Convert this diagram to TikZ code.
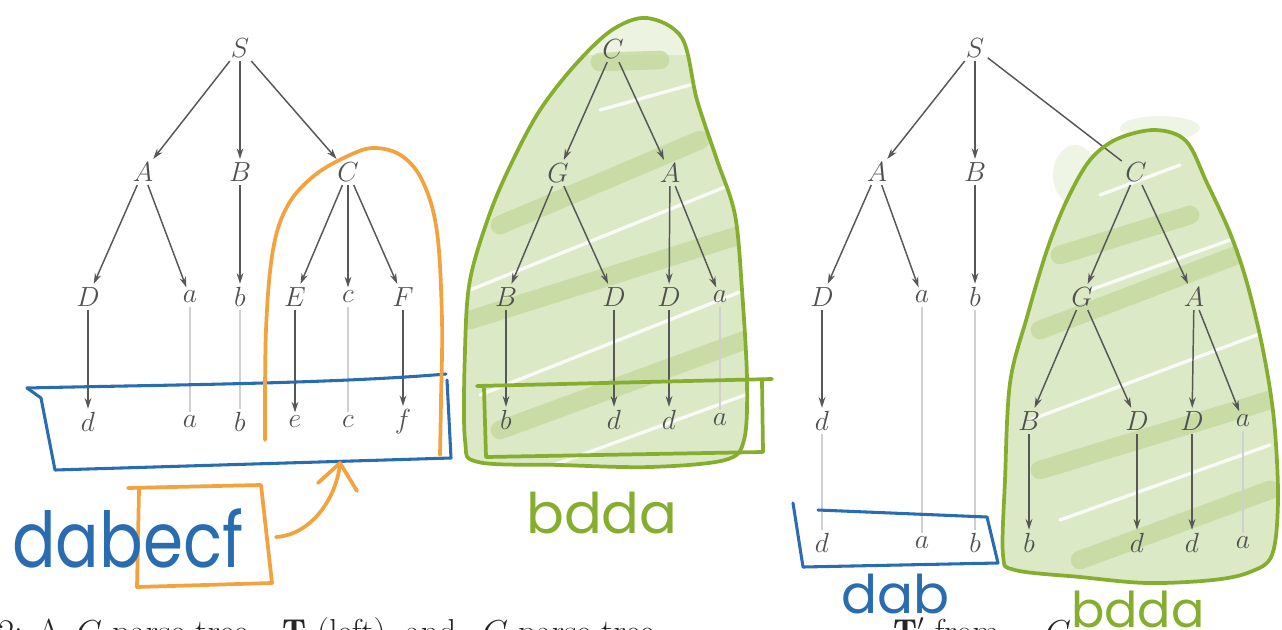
\documentclass[tikz,border=0pt]{standalone}
\usepackage{fontspec}
\newfontfamily\hand{Poppins}
\usetikzlibrary{arrows.meta}
\definecolor{lblgray}{HTML}{505050}
\definecolor{edgegray}{HTML}{575757}
\definecolor{faint}{HTML}{D0D0D0}
\definecolor{hblue}{HTML}{2A6CB0}
\definecolor{horange}{HTML}{F2A23F}
\definecolor{hgreen}{HTML}{86AE2E}
\definecolor{gfill}{HTML}{DCE9C6}
\definecolor{gdark}{HTML}{C3D89C}
\begin{document}
\begin{tikzpicture}[x=0.75pt,y=-0.75pt,
  lbl/.style={font=\fontsize{22}{26}\selectfont, text=lblgray, inner sep=2.5pt},
  edge/.style={draw=edgegray, line width=1.1pt, -{Stealth[length=8pt,width=5pt]}},
  plain/.style={draw=edgegray, line width=1.1pt},
  faintline/.style={draw=faint, line width=0.8pt},
  pen/.style={line width=2.3pt, line cap=round, line join=round},
  gpen/.style={pen, draw=hgreen, line width=2.8pt},
  opens/.style={pen, draw=horange, line width=2.8pt},
  bpen/.style={pen, draw=hblue},
  band/.style={draw=gdark, line width=14pt, line cap=round, opacity=0.75},
  streak/.style={draw=white, line width=2.5pt, line cap=round, opacity=0.85},
  hw/.style={anchor=base west, inner sep=0pt},
  captext/.style={anchor=base west, inner sep=0pt, font=\fontsize{26}{30}\selectfont, text=black!85}
]
\useasboundingbox (0,0) rectangle (1282,629);

% ---------- green shading, middle ----------
\def\midblob{(647,18) (682,38) (697,100) (717,160) (735,215) (742,290) (747,380) (744,440) (725,460) (650,467) (560,465) (478,462) (465,440) (465,350) (470,280) (490,213) (513,160) (540,110) (575,65) (612,30)}
\begin{scope}
  \clip plot[smooth cycle, tension=0.55] coordinates {\midblob};
  \fill[gfill] (440,55) rectangle (800,480);
  \fill[gfill!55] (440,0) rectangle (800,55);
  \draw[band] (600,62) -- (660,60);
  \draw[band] (500,225) -- (700,140);
  \draw[band] (470,320) -- (740,235);
  \draw[band] (500,430) -- (745,340);
  \draw[streak] (470,290) -- (730,185);
  \draw[streak] (480,395) -- (745,290);
  \draw[streak] (540,470) -- (745,395);
  \draw[streak] (600,110) -- (690,85);
\end{scope}
% ---------- green shading, right ----------
\def\rightblob{(1155,130) (1186,141) (1207,183) (1230,233) (1247,283) (1263,350) (1274,420) (1278,500) (1272,555) (1250,572) (1213,580) (1147,583) (1080,577) (1015,570) (1003,555) (1005,480) (1010,383) (1027,317) (1047,250) (1067,200) (1090,160) (1117,139)}
\fill[gfill, opacity=0.45] (1075,175) ellipse (22 and 30);
\fill[gfill, opacity=0.45] (1160,128) ellipse (40 and 12);
\begin{scope}
  \clip plot[smooth cycle, tension=0.55] coordinates {\rightblob};
  \fill[gfill] (990,120) rectangle (1282,600);
  \draw[band] (1060,255) -- (1190,215);
  \draw[band] (1040,330) -- (1250,250);
  \draw[band] (1040,470) -- (1270,400);
  \draw[band] (1080,560) -- (1270,490);
  \draw[streak] (1100,195) -- (1180,165);
  \draw[streak] (1090,290) -- (1230,240);
  \draw[streak] (1030,420) -- (1270,330);
  \draw[streak] (1060,520) -- (1270,445);
\end{scope}

% ---------- left tree ----------
\node[lbl] (lS) at (240,48) {$S$};
\node[lbl] (lA) at (143,172) {$A$};
\node[lbl] (lB) at (240,172) {$B$};
\node[lbl] (lC) at (348,172) {$C$};
\node[lbl] (lD) at (88,297) {$D$};
\node[lbl] (la1) at (190,297) {$a$};
\node[lbl] (lb1) at (240,297) {$b$};
\node[lbl] (lE) at (295,297) {$E$};
\node[lbl] (lc1) at (348,297) {$c$};
\node[lbl] (lF) at (403,297) {$F$};
\node[lbl] (ld2) at (88,422) {$d$};
\node[lbl] (la2) at (190,422) {$a$};
\node[lbl] (lb2) at (240,422) {$b$};
\node[lbl] (le2) at (295,422) {$e$};
\node[lbl] (lc2) at (348,422) {$c$};
\node[lbl] (lf2) at (403,422) {$f$};
\draw[edge] (lS) -- (lA);
\draw[edge] (lS) -- (lB);
\draw[edge] (lS) -- (lC);
\draw[edge] (lA) -- (lD);
\draw[edge] (lA) -- (la1);
\draw[edge] (lB) -- (lb1);
\draw[edge] (lC) -- (lE);
\draw[edge] (lC) -- (lc1);
\draw[edge] (lC) -- (lF);
\draw[edge] (lD) -- (ld2);
\draw[faintline] (la1) -- (la2);
\draw[faintline] (lb1) -- (lb2);
\draw[edge] (lE) -- (le2);
\draw[faintline] (lc1) -- (lc2);
\draw[edge] (lF) -- (lf2);

% ---------- middle tree ----------
\node[lbl] (mC) at (613,49) {$C$};
\node[lbl] (mG) at (558,173) {$G$};
\node[lbl] (mA) at (670,173) {$A$};
\node[lbl] (mB) at (506,297) {$B$};
\node[lbl] (mD1) at (614,297) {$D$};
\node[lbl] (mD2) at (669,297) {$D$};
\node[lbl] (ma1) at (720,297) {$a$};
\node[lbl] (mb2) at (506,420) {$b$};
\node[lbl] (md1) at (614,420) {$d$};
\node[lbl] (md2) at (669,420) {$d$};
\node[lbl] (ma2) at (720,420) {$a$};
\draw[edge] (mC) -- (mG);
\draw[edge] (mC) -- (mA);
\draw[edge] (mG) -- (mB);
\draw[edge] (mG) -- (mD1);
\draw[edge] (mA) -- (mD2);
\draw[edge] (mA) -- (ma1);
\draw[edge] (mB) -- (mb2);
\draw[edge] (mD1) -- (md1);
\draw[edge] (mD2) -- (md2);
\draw[faintline] (ma1) -- (ma2);

% ---------- right tree ----------
\node[lbl] (rS) at (975,48) {$S$};
\node[lbl] (rA) at (877,172) {$A$};
\node[lbl] (rB) at (975,172) {$B$};
\node[lbl] (rC) at (1136,172) {$C$};
\node[lbl] (rD) at (822,297) {$D$};
\node[lbl] (ra1) at (922,297) {$a$};
\node[lbl] (rb1) at (975,297) {$b$};
\node[lbl] (rG) at (1082,297) {$G$};
\node[lbl] (rA2) at (1194,297) {$A$};
\node[lbl] (rd2) at (822,421) {$d$};
\node[lbl] (rB3) at (1029,421) {$B$};
\node[lbl] (rD3) at (1137,421) {$D$};
\node[lbl] (rD4) at (1192,421) {$D$};
\node[lbl] (ra3) at (1243,421) {$a$};
\node[lbl] (rd4) at (822,543) {$d$};
\node[lbl] (ra4) at (922,543) {$a$};
\node[lbl] (rb4) at (975,543) {$b$};
\node[lbl] (rb5) at (1029,543) {$b$};
\node[lbl] (rd5) at (1137,543) {$d$};
\node[lbl] (rd6) at (1192,543) {$d$};
\node[lbl] (ra5) at (1243,543) {$a$};
\draw[edge] (rS) -- (rA);
\draw[edge] (rS) -- (rB);
\draw[plain] (rS) -- (rC);
\draw[edge] (rA) -- (rD);
\draw[edge] (rA) -- (ra1);
\draw[edge] (rB) -- (rb1);
\draw[edge] (rC) -- (rG);
\draw[edge] (rC) -- (rA2);
\draw[edge] (rD) -- (rd2);
\draw[faintline] (ra1) -- (ra4);
\draw[faintline] (rb1) -- (rb4);
\draw[faintline] (rd2) -- (rd4);
\draw[edge] (rG) -- (rB3);
\draw[edge] (rG) -- (rD3);
\draw[edge] (rA2) -- (rD4);
\draw[edge] (rA2) -- (ra3);
\draw[edge] (rB3) -- (rb5);
\draw[edge] (rD3) -- (rd5);
\draw[edge] (rD4) -- (rd6);
\draw[faintline] (ra3) -- (ra5);

% ---------- hand annotations ----------
\draw[gpen] plot[smooth cycle, tension=0.55] coordinates {\midblob};
\draw[gpen] plot[smooth cycle, tension=0.55] coordinates {\rightblob};
\draw[gpen] (477,386) -- (772,379);
\draw[gpen] (762,381) -- (763,452) -- (486,457) -- (484,388);
\draw[bpen] (27,388) .. controls (150,385) and (330,384) .. (446,374);
\draw[bpen] (27,388) -- (41,398) -- (55,470) -- (451,458) -- (447,380);
\draw[opens] plot[smooth, tension=0.6] coordinates {(265,440) (266,330) (273,250) (288,205) (315,175) (350,155) (375,148) (402,156) (423,182) (437,232) (442,320) (441,400) (440,455)};
\draw[opens] (128,488) -- (261,485) -- (272,583) -- (137,587) -- (139,490);
\draw[opens] (276,537) .. controls (310,535) and (336,500) .. (340,464);
\draw[opens] (318,483) -- (340,463) -- (357,491);
\draw[bpen] (793,503) -- (803,567) -- (998,563) -- (987,517) -- (818,510);

% caption (cut off by the bottom edge)
\begin{scope}
\clip (0,0) rectangle (1282,629);
\node[captext] (c1) at (-2,643) {2: A};
\node[captext] (c2) at (76,643) {$G$-parse tree};
\node[captext] (c3) at (282,643) {$\mathbf{T}$ (left), and};
\node[captext] (c4) at (482,643) {$G$-parse tree};
\node[captext] (c5) at (893,643) {$\mathbf{T}'$ from};
\node[captext] (c6) at (1045,643) {$C$};
\end{scope}

\node[hw, text=hblue, font=\hand\fontsize{55}{55}\selectfont] (w1) at (12,567) {\scalebox{0.88}[1.05]{dabecf}};
\node[hw, text=hgreen, font=\hand\fontsize{42}{42}\selectfont] (w2) at (526,533) {bdda};
\node[hw, text=hblue, font=\hand\fontsize{40}{40}\selectfont] (w3) at (841,613) {dab};
\node[hw, text=hgreen, font=\hand\fontsize{37}{37}\selectfont] (w4) at (1071,627) {bdda};
\end{tikzpicture}
\end{document}
